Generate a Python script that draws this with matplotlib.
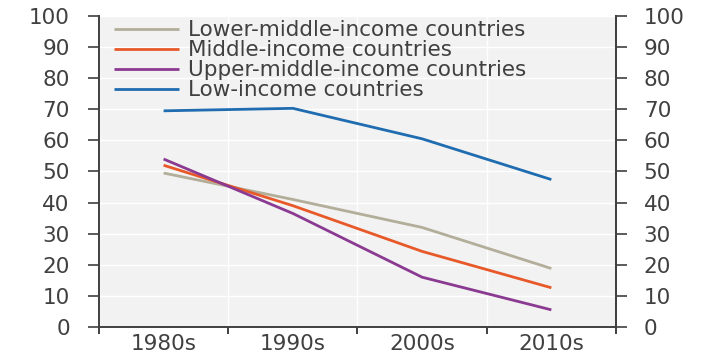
import numpy as np
import matplotlib.pyplot as plt

# decades on the x axis and the share for each income group
decades = ['1980s', '1990s', '2000s', '2010s']
lower_middle = [49.5, 41.0, 32.0, 18.8]
middle = [52.0, 39.0, 24.3, 12.6]
upper_middle = [54.0, 36.5, 16.0, 5.5]
low_income = [69.5, 70.3, 60.5, 47.4]

series = [
    ('Lower-middle-income countries', lower_middle, '#b3ae9a'),
    ('Middle-income countries', middle, '#e8592a'),
    ('Upper-middle-income countries', upper_middle, '#8b3a92'),
    ('Low-income countries', low_income, '#1f6cb0'),
]

text_col = '#404040'
fs = 15.5
plt.rcParams['font.family'] = ['DejaVu Sans']

fig = plt.figure(figsize=(7.09, 3.55), dpi=100)
ax = fig.add_axes([0.1396, 0.079, 0.7292, 0.876])
ax.set_facecolor('#f2f2f2')

x = np.arange(len(decades))
for name, vals, col in series:
    ax.plot(x, vals, color=col, lw=2.0, label=name, solid_capstyle='butt')

ax.set_xlim(-0.5, len(decades) - 0.5)
ax.set_ylim(0, 100)

# category boundaries carry the tick marks, labels sit in the middle
ax.set_xticks(np.arange(-0.5, len(decades), 1.0))
ax.set_xticklabels([])
ax.set_xticks(x, minor=True)
ax.set_xticklabels(decades, minor=True)
ax.tick_params(axis='x', which='major', length=5, width=1.4, color=text_col, direction='out')
ax.tick_params(axis='x', which='minor', length=0, labelsize=fs, labelcolor=text_col, pad=5)

ax.set_yticks(np.arange(0, 101, 10))
ax.tick_params(axis='y', length=8, width=1.2, color=text_col, labelsize=fs,
               labelcolor=text_col, pad=13)

ax.grid(True, which='major', color='white', lw=1.0)
ax.set_axisbelow(True)

ax.spines['top'].set_visible(False)
for side in ['left', 'bottom', 'right']:
    ax.spines[side].set_color(text_col)
    ax.spines[side].set_linewidth(1.4)

ax2 = ax.twinx()
ax2.set_ylim(0, 100)
ax2.set_yticks(np.arange(0, 101, 10))
ax2.tick_params(axis='y', length=8, width=1.2, color=text_col, labelsize=fs,
                labelcolor=text_col, pad=12)
for side in ['top', 'left', 'bottom']:
    ax2.spines[side].set_visible(False)
ax2.spines['right'].set_color(text_col)
ax2.spines['right'].set_linewidth(1.4)

leg = ax.legend(loc='upper left', bbox_to_anchor=(0.0, 1.035), frameon=False,
                fontsize=fs, handlelength=3.0, handletextpad=0.45,
                labelspacing=0.0, borderaxespad=0.3)
for t in leg.get_texts():
    t.set_color(text_col)

fig.savefig('out.png', dpi=100)
